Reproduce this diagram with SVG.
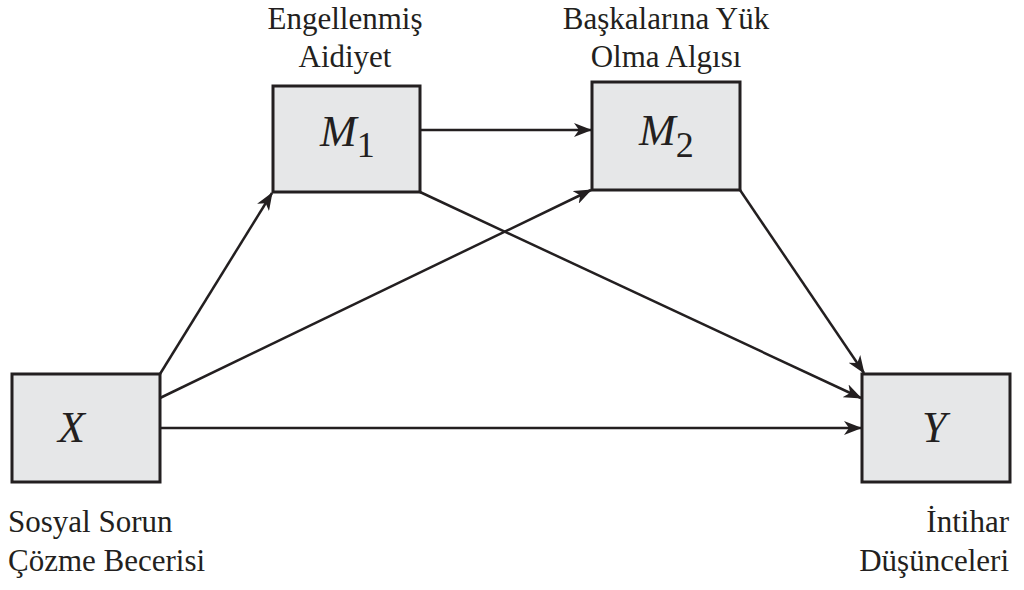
<svg xmlns="http://www.w3.org/2000/svg" width="1024" height="590" viewBox="0 0 1024 590">
  <style>
    .box { fill: #e6e7e8; stroke: #231f20; stroke-width: 3; }
    .lbl { font-family: "Liberation Serif", "Times New Roman", serif; font-size: 31px; fill: #231f20; }
    .var { font-family: "Liberation Serif", "Times New Roman", serif; font-size: 44px; font-style: italic; fill: #231f20; }
    .sub { font-family: "Liberation Serif", "Times New Roman", serif; font-size: 36px; font-style: normal; fill: #231f20; }
    .conn { stroke: #231f20; stroke-width: 2.5; fill: none; marker-end: url(#arr); }
  </style>
  <defs>
    <marker id="arr" markerUnits="userSpaceOnUse" viewBox="0 0 18 14" markerWidth="18" markerHeight="14" refX="17" refY="7" orient="auto">
      <path d="M0,0 L18,7 L0,14 L5,7 Z" fill="#231f20"/>
    </marker>
  </defs>
  <rect width="1024" height="590" fill="#ffffff"/>

  <g id="connectors">
    <line class="conn" x1="420" y1="130" x2="591" y2="130"/>
    <line class="conn" x1="160" y1="374" x2="272" y2="193"/>
    <line class="conn" x1="160" y1="398" x2="591" y2="190"/>
    <line class="conn" x1="160" y1="428" x2="861" y2="428"/>
    <line class="conn" x1="420" y1="192" x2="861" y2="398"/>
    <line class="conn" x1="740" y1="190" x2="864" y2="373"/>
  </g>

  <g id="node-M1">
    <rect class="box" x="273" y="86" width="147" height="106"/>
    <text class="var" x="320" y="146">M<tspan class="sub" dy="11">1</tspan></text>
    <text class="lbl" x="345" y="29" text-anchor="middle">Engellenmiş</text>
    <text class="lbl" x="345" y="67" text-anchor="middle">Aidiyet</text>
  </g>

  <g id="node-M2">
    <rect class="box" x="592" y="82" width="148" height="108"/>
    <text class="var" x="639" y="145">M<tspan class="sub" dy="12">2</tspan></text>
    <text class="lbl" x="666" y="29" text-anchor="middle">Başkalarına Yük</text>
    <text class="lbl" x="666" y="67" text-anchor="middle">Olma Algısı</text>
  </g>

  <g id="node-X">
    <rect class="box" x="12" y="374" width="148" height="108"/>
    <text class="var" x="58" y="442">X</text>
    <text class="lbl" x="8" y="532">Sosyal Sorun</text>
    <text class="lbl" x="8" y="571">Çözme Becerisi</text>
  </g>

  <g id="node-Y">
    <rect class="box" x="862" y="374" width="148" height="108"/>
    <text class="var" x="922" y="442">Y</text>
    <text class="lbl" x="1009" y="532" text-anchor="end">İntihar</text>
    <text class="lbl" x="1009" y="571" text-anchor="end">Düşünceleri</text>
  </g>
</svg>
